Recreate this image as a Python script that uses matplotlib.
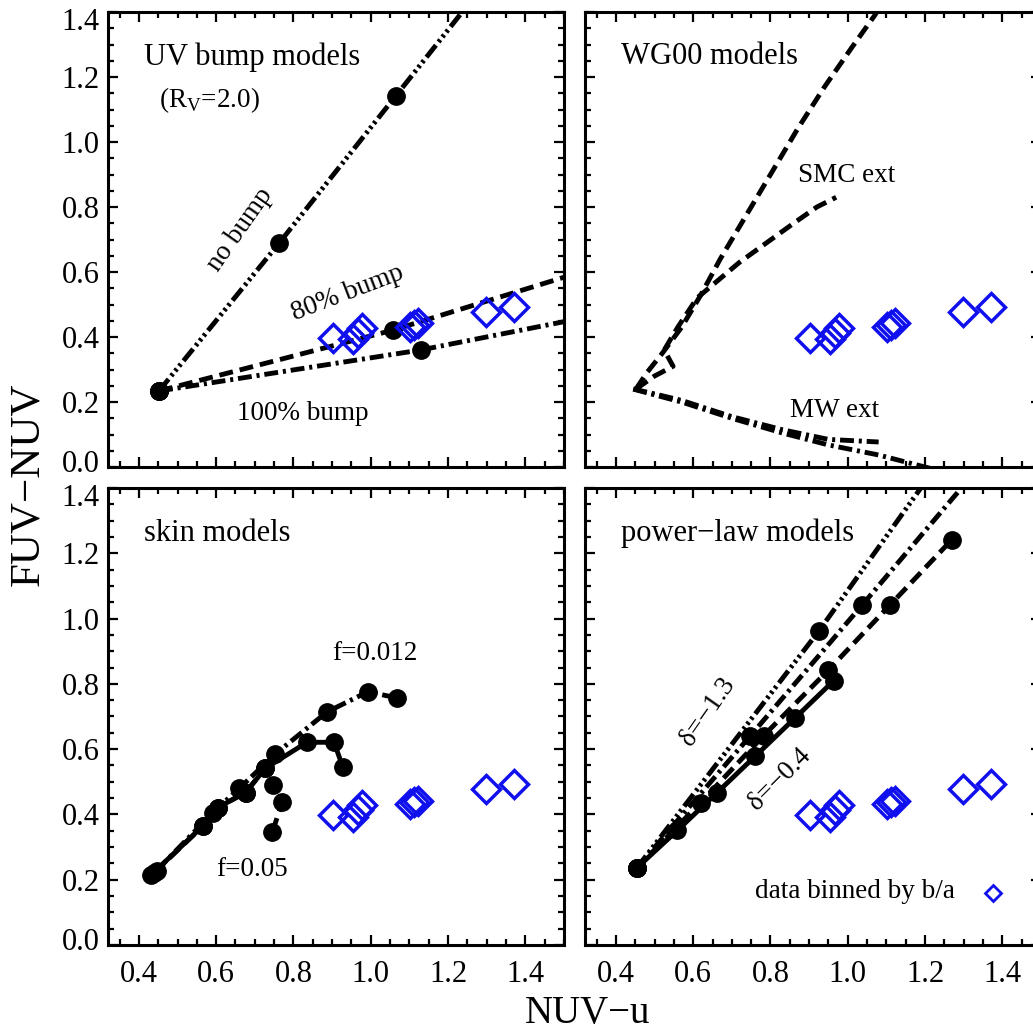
import matplotlib
matplotlib.use("Agg")
import matplotlib.pyplot as plt
from matplotlib.ticker import MultipleLocator
from matplotlib.transforms import ScaledTranslation

plt.rcParams['font.family'] = ['Liberation Serif', 'DejaVu Serif']
plt.rcParams['mathtext.fontset'] = 'custom'
plt.rcParams['mathtext.rm'] = 'Liberation Serif'
plt.rcParams['lines.scale_dashes'] = False

# ---------------- data ----------------
# observed data binned by b/a (blue diamonds)
data_x = [0.903, 0.954, 0.966, 0.977, 1.101, 1.112, 1.122, 1.299, 1.372]
data_y = [0.397, 0.393, 0.413, 0.428, 0.432, 0.437, 0.442, 0.478, 0.492]

# UV bump models
nobump_x = [0.452, 0.763, 1.065, 1.37]
nobump_y = [0.234, 0.689, 1.142, 1.60]
nobump_pts = 3
bump80_x = [0.452, 1.057, 1.495, 1.66]
bump80_y = [0.234, 0.421, 0.582, 0.641]
bump80_pts = 2
bump100_x = [0.452, 1.129, 1.495, 1.70]
bump100_y = [0.234, 0.360, 0.446, 0.494]
bump100_pts = 2

# WG00 models
smcA_x = [0.452, 0.48, 0.52, 0.57, 0.62, 0.67, 0.73, 0.80, 0.87, 0.94, 1.01, 1.07, 1.10]
smcA_y = [0.240, 0.29, 0.35, 0.43, 0.53, 0.64, 0.76, 0.90, 1.04, 1.17, 1.29, 1.39, 1.45]
smcB_x = [0.452, 0.50, 0.548, 0.525, 0.56, 0.61, 0.66, 0.72, 0.79, 0.86, 0.92, 0.97]
smcB_y = [0.240, 0.28, 0.31, 0.36, 0.43, 0.52, 0.57, 0.63, 0.69, 0.75, 0.80, 0.83]
mwC_x = [0.445, 0.50, 0.57, 0.70, 0.83, 0.95, 1.08]
mwC_y = [0.240, 0.225, 0.205, 0.155, 0.115, 0.085, 0.077]
mwD_x = [0.445, 0.50, 0.57, 0.70, 0.83, 0.95, 1.08, 1.20, 1.30]
mwD_y = [0.240, 0.222, 0.200, 0.150, 0.105, 0.068, 0.037, 0.0, -0.03]

# skin models
skin05_x = [0.432, 0.567, 0.604, 0.676, 0.727, 0.835, 0.905, 0.928]
skin05_y = [0.215, 0.366, 0.421, 0.467, 0.541, 0.621, 0.621, 0.545]
skinmid_x = [0.440, 0.567, 0.604, 0.676, 0.727, 0.748, 0.771, 0.745]
skinmid_y = [0.222, 0.366, 0.421, 0.467, 0.541, 0.489, 0.437, 0.345]
skin012_x = [0.446, 0.591, 0.66, 0.753, 0.887, 0.993, 1.067]
skin012_y = [0.228, 0.405, 0.48, 0.585, 0.714, 0.776, 0.757]

# power-law models
pl_a_x = [0.454, 0.559, 0.662, 0.761, 0.864, 0.964]
pl_a_y = [0.236, 0.351, 0.467, 0.579, 0.696, 0.810]
pl_b_x = [0.454, 0.619, 0.782, 0.949, 1.109, 1.269]
pl_b_y = [0.236, 0.436, 0.641, 0.841, 1.041, 1.241]
pl_c_x = [0.454, 0.748, 1.037, 1.33]
pl_c_y = [0.236, 0.641, 1.041, 1.45]
pl_c_pts = 3
pl_d_x = [0.454, 0.926, 1.40]
pl_d_y = [0.236, 0.963, 1.75]
pl_d_pts = 2

xticks = [0.4, 0.6, 0.8, 1.0, 1.2, 1.4]
yticks = [0.0, 0.2, 0.4, 0.6, 0.8, 1.0, 1.2, 1.4]

# ---------------- styles ----------------
DASH = (0, (10, 5))
DASHDOT = (0, (10, 3.5, 2.2, 3.5))
DASH3DOT = (0, (11, 3, 2, 2.5, 2, 2.5, 2, 3))
LW = 3.5
MS = 12.5
BLUE = '#1010ee'
FS_TICK = 22
FS_TITLE = 22
FS_ANN = 19.5

fig = plt.figure(figsize=(10.33, 10.36), dpi=100)
pos = {
    'tl': [0.1045, 0.5492, 0.4414, 0.4392],
    'tr': [0.5663, 0.5492, 0.4414, 0.4392],
    'bl': [0.1045, 0.0878, 0.4414, 0.4412],
    'br': [0.5663, 0.0878, 0.4414, 0.4412],
}
axes = {k: fig.add_axes(v) for k, v in pos.items()}

for k, ax in axes.items():
    ax.set_xlim(0.32, 1.5)
    ax.set_ylim(0.0, 1.4)
    ax.set_xticks(xticks)
    ax.set_yticks(yticks)
    ax.xaxis.set_minor_locator(MultipleLocator(0.05))
    ax.yaxis.set_minor_locator(MultipleLocator(0.05))
    ax.tick_params(which='both', direction='in', top=True, right=True,
                   width=1.6, labelsize=FS_TICK)
    ax.tick_params(which='major', length=7)
    ax.tick_params(which='minor', length=4)
    ax.tick_params(axis='x', pad=11)
    ax.tick_params(axis='y', pad=6)
    for s in ax.spines.values():
        s.set_linewidth(2.2)
    if k in ('tl', 'tr'):
        ax.tick_params(labelbottom=False)
    if k in ('tr', 'br'):
        ax.tick_params(labelleft=False)
    else:
        # nudge end labels inward, as in the reference
        labs = ax.get_yticklabels()
        labs[0].set_transform(labs[0].get_transform() +
                              ScaledTranslation(0, 4 / 72, fig.dpi_scale_trans))
        labs[-1].set_transform(labs[-1].get_transform() +
                               ScaledTranslation(0, -5 / 72, fig.dpi_scale_trans))
    ax.plot(data_x, data_y, ls='none', marker='D', ms=14, mfc='none',
            mec=BLUE, mew=2.5, zorder=5)


def curve(ax, x, y, ls, npts=None, marker=True):
    ax.plot(x, y, color='k', lw=LW, ls=ls, dash_capstyle='butt',
            solid_capstyle='butt', zorder=3)
    if marker:
        n = len(x) if npts is None else npts
        ax.plot(x[:n], y[:n], ls='none', marker='o', ms=MS, color='k',
                zorder=4)


# UV bump
ax = axes['tl']
curve(ax, nobump_x, nobump_y, DASH3DOT, nobump_pts)
curve(ax, bump80_x, bump80_y, DASH, bump80_pts)
curve(ax, bump100_x, bump100_y, DASHDOT, bump100_pts)
ax.text(0.413, 1.262, 'UV bump models', fontsize=FS_TITLE, ha='left', va='center')
ax.text(0.452, 1.13, r'(R$_\mathrm{V}$=2.0)', fontsize=FS_ANN, ha='left', va='center')
ax.text(0.663, 0.729, 'no bump', fontsize=FS_ANN, ha='center', va='center', rotation=55)
ax.text(0.939, 0.535, '80% bump', fontsize=FS_ANN, ha='center', va='center', rotation=21)
ax.text(0.825, 0.166, '100% bump', fontsize=FS_ANN, ha='center', va='center')

# WG00
ax = axes['tr']
curve(ax, smcA_x, smcA_y, DASH, marker=False)
curve(ax, smcB_x, smcB_y, DASH, marker=False)
curve(ax, mwC_x, mwC_y, DASHDOT, marker=False)
curve(ax, mwD_x, mwD_y, DASHDOT, marker=False)
ax.text(0.413, 1.262, 'WG00 models', fontsize=FS_TITLE, ha='left', va='center')
ax.text(0.872, 0.898, 'SMC ext', fontsize=FS_ANN, ha='left', va='center')
ax.text(0.851, 0.175, 'MW ext', fontsize=FS_ANN, ha='left', va='center')

# skin
ax = axes['bl']
curve(ax, skinmid_x, skinmid_y, DASH)
curve(ax, skin012_x, skin012_y, DASHDOT)
curve(ax, skin05_x, skin05_y, '-')
ax.text(0.413, 1.262, 'skin models', fontsize=FS_TITLE, ha='left', va='center')
ax.text(1.011, 0.892, 'f=0.012', fontsize=FS_ANN, ha='center', va='center')
ax.text(0.694, 0.231, 'f=0.05', fontsize=FS_ANN, ha='center', va='center')

# power-law
ax = axes['br']
curve(ax, pl_d_x, pl_d_y, DASH3DOT, pl_d_pts)
curve(ax, pl_c_x, pl_c_y, DASHDOT, pl_c_pts)
curve(ax, pl_b_x, pl_b_y, DASH)
curve(ax, pl_a_x, pl_a_y, '-')
ax.text(0.413, 1.262, 'power\u2212law models', fontsize=FS_TITLE, ha='left', va='center')
ax.text(0.637, 0.714, '\u03b4=\u22121.3', fontsize=FS_ANN, ha='center', va='center', rotation=55)
ax.text(0.825, 0.508, '\u03b4=\u22120.4', fontsize=FS_ANN, ha='center', va='center', rotation=45)
ax.text(0.761, 0.163, 'data binned by b/a', fontsize=FS_ANN, ha='left', va='center')
ax.plot([1.377], [0.160], ls='none', marker='D', ms=8.5, mfc='none', mec=BLUE, mew=2.0)

fig.text(588 / 1033, 1 - 1014 / 1036, 'NUV\u2212u', fontsize=28, ha='center', va='center')
fig.text(28 / 1033, 1 - 484 / 1036, 'FUV\u2212NUV', fontsize=31, ha='center', va='center',
         rotation=90)

fig.savefig('out.png', dpi=100)
